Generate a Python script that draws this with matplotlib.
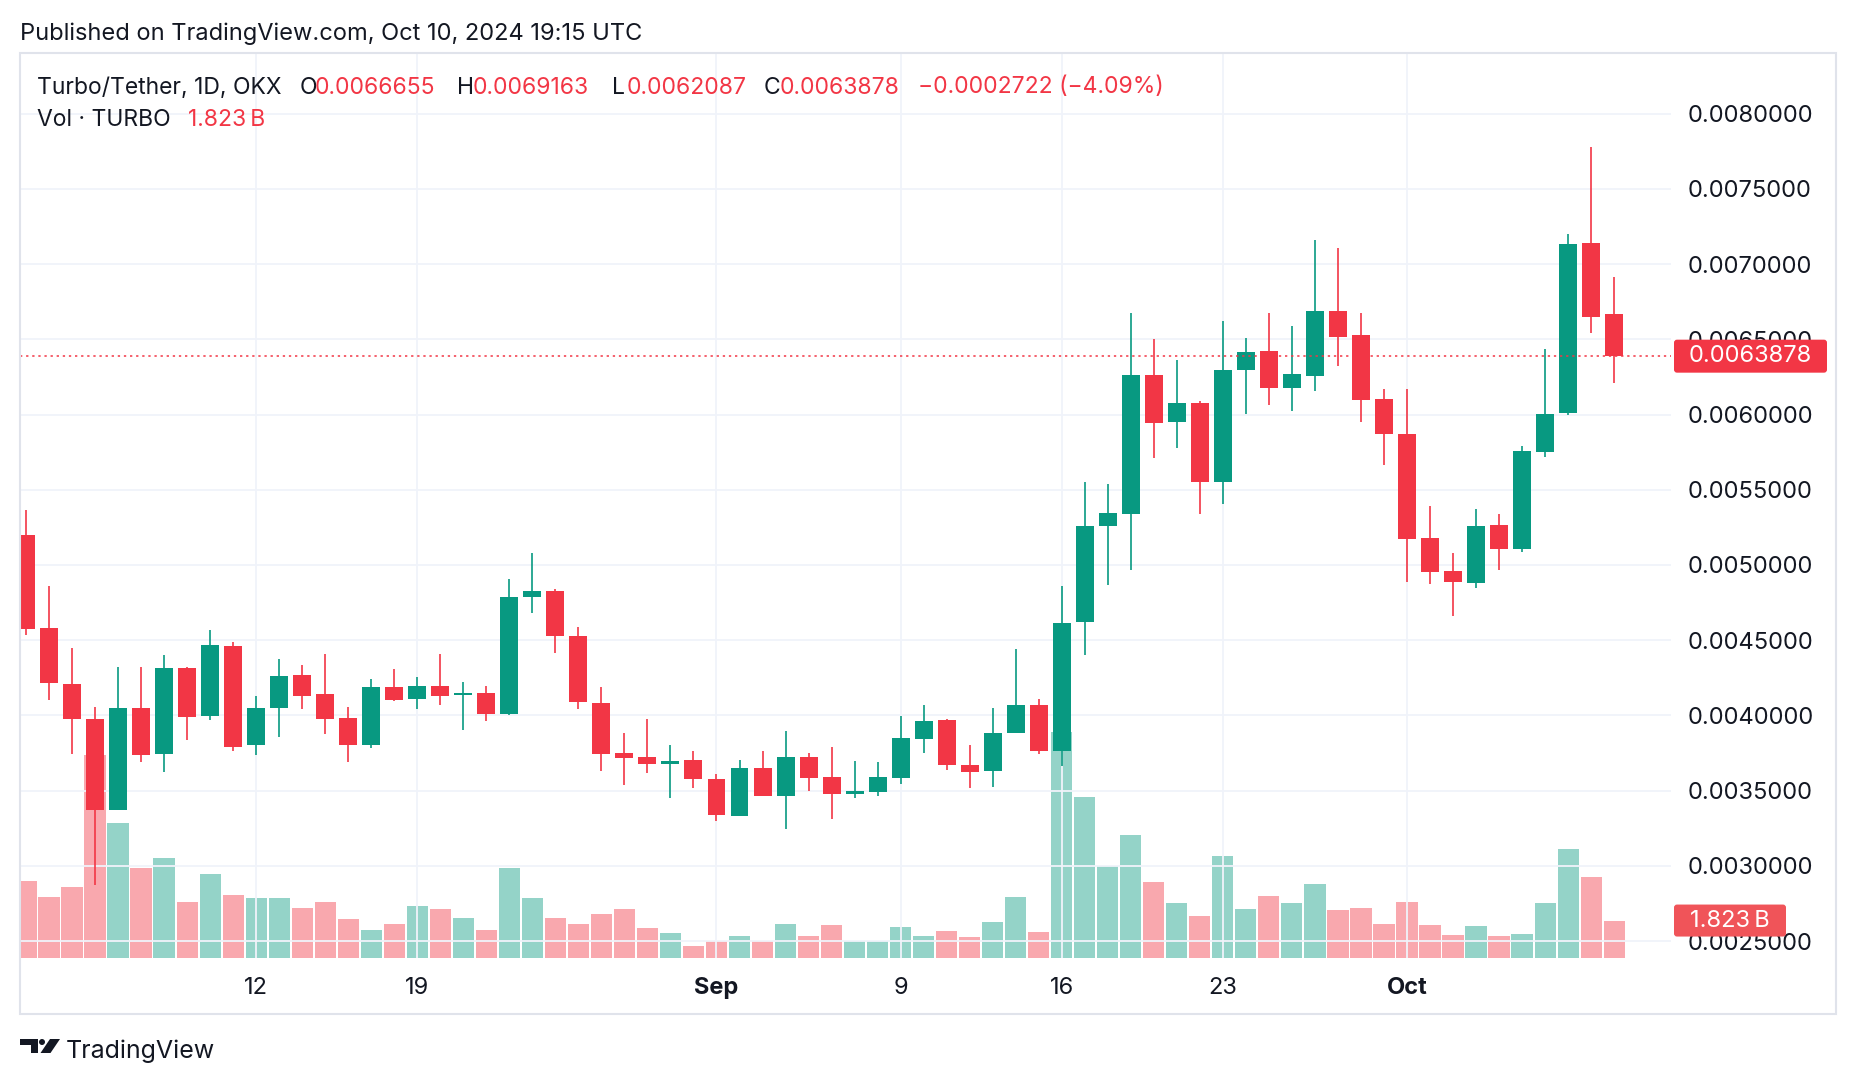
import matplotlib.pyplot as plt
import matplotlib.dates as mdates
import matplotlib.transforms as mtransforms
from matplotlib.patches import Rectangle, Polygon, Circle, FancyBboxPatch
import numpy as np
import pandas as pd

plt.rcParams['font.family'] = ['Inter', 'DejaVu Sans']

# daily candles, Aug 2 - Oct 10 2024
dates = pd.date_range('2024-08-02', '2024-10-10', freq='D')
opens = [0.005201, 0.004583, 0.004211, 0.003979, 0.003374, 0.004052, 0.003746, 0.004318, 0.003999, 0.004464,
         0.003800, 0.004052, 0.004271, 0.004145, 0.003985, 0.003806, 0.004191, 0.004112, 0.004198, 0.004138,
         0.004152, 0.004012, 0.004785, 0.004829, 0.004530, 0.004085, 0.003753, 0.003726, 0.003680, 0.003706,
         0.003580, 0.003334, 0.003647, 0.003467, 0.003726, 0.003593, 0.003480, 0.003494, 0.003587, 0.003846,
         0.003972, 0.003673, 0.003633, 0.003886, 0.004072, 0.003761, 0.004618, 0.005257, 0.005337, 0.006264,
         0.005948, 0.006076, 0.005552, 0.006299, 0.006424, 0.006177, 0.006257, 0.006688, 0.006531, 0.006104,
         0.005872, 0.005181, 0.004962, 0.004882, 0.005268, 0.005108, 0.005754, 0.006007, 0.007139, 0.0066655]
highs = [0.005367, 0.004862, 0.004450, 0.004059, 0.004324, 0.004324, 0.004404, 0.004320, 0.004570, 0.004490,
         0.004132, 0.004377, 0.004337, 0.004411, 0.004059, 0.004245, 0.004311, 0.004258, 0.004411, 0.004225,
         0.004198, 0.004909, 0.005082, 0.004842, 0.004590, 0.004191, 0.003886, 0.003979, 0.003806, 0.003760,
         0.003613, 0.003706, 0.003766, 0.003899, 0.003753, 0.003793, 0.003700, 0.003693, 0.003999, 0.004072,
         0.003975, 0.003800, 0.004052, 0.004444, 0.004112, 0.004858, 0.005549, 0.005535, 0.006677, 0.006500,
         0.006365, 0.006090, 0.006622, 0.006510, 0.006677, 0.006590, 0.007160, 0.007108, 0.006677, 0.006170,
         0.006170, 0.005389, 0.005077, 0.005375, 0.005340, 0.005788, 0.006438, 0.007198, 0.007779, 0.0069163]
lows = [0.004537, 0.004105, 0.003746, 0.002870, 0.003368, 0.003693, 0.003627, 0.003839, 0.003972, 0.003760,
        0.003740, 0.003859, 0.004045, 0.003879, 0.003687, 0.003780, 0.004098, 0.004045, 0.004072, 0.003906,
        0.003965, 0.004005, 0.004683, 0.004417, 0.004045, 0.003633, 0.003534, 0.003620, 0.003454, 0.003520,
        0.003301, 0.003334, 0.003461, 0.003248, 0.003500, 0.003308, 0.003454, 0.003467, 0.003547, 0.003753,
        0.003640, 0.003520, 0.003527, 0.003886, 0.003746, 0.003663, 0.004400, 0.004868, 0.004969, 0.005708,
        0.005778, 0.005337, 0.005406, 0.006004, 0.006066, 0.006024, 0.006153, 0.006323, 0.005951, 0.005667,
        0.004889, 0.004875, 0.004663, 0.004844, 0.004969, 0.005083, 0.005719, 0.006000, 0.006539, 0.0062087]
closes = [0.004577, 0.004214, 0.003974, 0.003374, 0.004052, 0.003740, 0.004318, 0.003992, 0.004470, 0.003793,
          0.004052, 0.004264, 0.004132, 0.003979, 0.003806, 0.004191, 0.004105, 0.004198, 0.004132, 0.004152,
          0.004012, 0.004789, 0.004829, 0.004526, 0.004087, 0.003746, 0.003720, 0.003680, 0.003700, 0.003580,
          0.003341, 0.003647, 0.003461, 0.003726, 0.003587, 0.003480, 0.003500, 0.003593, 0.003853, 0.003965,
          0.003667, 0.003627, 0.003886, 0.004072, 0.003766, 0.004611, 0.005261, 0.005347, 0.006264, 0.005941,
          0.006076, 0.005552, 0.006299, 0.006417, 0.006177, 0.006267, 0.006688, 0.006517, 0.006094, 0.005872,
          0.005174, 0.004955, 0.004889, 0.005261, 0.005108, 0.005760, 0.006004, 0.007131, 0.006651, 0.0063878]
# volume in billions TURBO
volumes = [3.79, 3.00, 3.45, 9.97, 6.60, 4.43, 4.88, 2.76, 4.09, 3.10,
           2.91, 2.91, 2.46, 2.76, 1.92, 1.38, 1.63, 2.56, 2.41, 1.97,
           1.38, 4.43, 2.91, 1.97, 1.63, 2.17, 2.41, 1.48, 1.23, 0.59,
           0.84, 1.08, 0.84, 1.67, 1.08, 1.58, 0.84, 0.84, 1.53, 1.08,
           1.33, 1.03, 1.77, 3.00, 1.28, 11.08, 7.88, 4.53, 6.03, 3.71,
           2.68, 2.04, 4.99, 2.41, 3.05, 2.68, 3.60, 2.36, 2.46, 1.67,
           2.76, 1.59, 1.13, 1.54, 1.05, 1.18, 2.68, 5.32, 3.96, 1.823]

price_ticks = [0.0025, 0.0030, 0.0035, 0.0040, 0.0045, 0.0050, 0.0055, 0.0060, 0.0065, 0.0070, 0.0075, 0.0080]
date_ticks = ['2024-08-12', '2024-08-19', '2024-09-01', '2024-09-09', '2024-09-16', '2024-09-23', '2024-10-01']
date_labels = ['12', '19', 'Sep', '9', '16', '23', 'Oct']

UP = '#089981'
DOWN = '#f23645'
TXT = '#131722'
GRID = '#f0f3fa'

W, H = 1856, 1086
fig = plt.figure(figsize=(W / 100, H / 100), dpi=100)
fig.patch.set_facecolor('white')


def fx(px):
    return px / W


def fy(py):
    return 1 - py / H


rect = [fx(20), fy(957.6), fx(1671) - fx(20), fy(53.3) - fy(957.6)]
axv = fig.add_axes(rect)
ax = fig.add_axes(rect, sharex=axv)
ax.set_zorder(axv.get_zorder() + 1)
ax.patch.set_visible(False)

x = mdates.date2num(dates)
o = np.array(opens)
h = np.array(highs)
l = np.array(lows)
c = np.array(closes)
colors = np.where(c >= o, UP, DOWN)

# volume pane
axv.bar(x, volumes, width=0.92, color=colors, alpha=0.43, lw=0)
axv.set_ylim(0, 44.5)
axv.axis('off')

# candles
ax.vlines(x, l, h, color=colors, lw=1.2, zorder=3)
ax.bar(x, np.maximum(np.abs(c - o), 0.000005), bottom=np.minimum(o, c),
       width=0.78, color=colors, lw=0, zorder=4)
ax.axhline(c[-1], color=DOWN, lw=1.1, ls=(0, (1.5, 2.5)), zorder=5)

ax.set_xlim(x[0] - 0.26, x[-1] + 2.47)
ax.set_ylim(0.00239, 0.008401)
ax.set_yticks(price_ticks)
ax.set_yticklabels([f'{v:.7f}' for v in price_ticks])
ax.yaxis.tick_right()
ax.tick_params(axis='y', length=0, pad=12, labelsize=17, labelcolor=TXT)
ax.set_xticks(mdates.date2num(pd.to_datetime(date_ticks)))
ax.set_xticklabels(date_labels)
ax.tick_params(axis='x', length=0, pad=14, labelsize=17, labelcolor=TXT)
for t in ax.get_xticklabels():
    if t.get_text() in ('Sep', 'Oct'):
        t.set_fontweight('bold')
ax.grid(True, color=GRID, lw=1.3)
ax.set_axisbelow(True)
for s in ax.spines.values():
    s.set_visible(False)

# outer frame
fig.patches.append(Rectangle((fx(20), fy(1014.4)), fx(1836) - fx(20), fy(53.3) - fy(1014.4),
                             transform=fig.transFigure, fill=False, ec='#e0e3eb', lw=1.5, zorder=2))

# header texts
fig.text(fx(20), fy(34), 'Published on TradingView.com, Oct 10, 2024 19:15 UTC',
         fontsize=17, color=TXT, va='center', ha='left')
row1 = [(36.7, 'Turbo/Tether, 1D, OKX', TXT), (299.5, 'O', TXT), (314.9, '0.0066655', DOWN),
        (456.9, 'H', TXT), (472.3, '0.0069163', DOWN), (612, 'L', TXT), (626.2, '0.0062087', DOWN),
        (763.5, 'C', TXT), (780, '0.0063878', DOWN), (918.5, '\u22120.0002722 (\u22124.09%)', DOWN)]
for px, s, col in row1:
    fig.text(fx(px), fy(87.5), s, fontsize=16.5, color=col, va='center', ha='left')
fig.text(fx(36.7), fy(120.5), 'Vol \u00b7 TURBO', fontsize=16.5, color=TXT, va='center', ha='left')
fig.text(fx(188.2), fy(120.5), '1.823\u2009B', fontsize=16.5, color=DOWN, va='center', ha='left')

# last price / last volume labels on the scale
ident = mtransforms.IdentityTransform()
py = ax.transData.transform((x[-1], c[-1]))[1]
fig.patches.append(FancyBboxPatch((1674, py - 16.5), 153, 33, boxstyle='round,pad=0,rounding_size=3',
                                  transform=ident, fc=DOWN, ec='none', zorder=6))
fig.text(fx(1750.5), py / H, f'{c[-1]:.7f}', fontsize=17, color='white', va='center', ha='center', zorder=7)
vy = axv.transData.transform((x[-1], volumes[-1]))[1]
fig.patches.append(FancyBboxPatch((1674, vy - 16), 112, 32, boxstyle='round,pad=0,rounding_size=3',
                                  transform=ident, fc='#f05459', ec='none', zorder=6))
fig.text(fx(1730), vy / H, '1.823\u2009B', fontsize=17, color='white', va='center', ha='center', zorder=7)

# TradingView logo + wordmark
fig.patches.append(Polygon([(20, H - 1039), (38, H - 1039), (38, H - 1053), (31, H - 1053),
                            (31, H - 1045), (20, H - 1045)], closed=True, transform=ident, fc=TXT, ec='none'))
fig.patches.append(Circle((42, H - 1042), 3, transform=ident, fc=TXT, ec='none'))
fig.patches.append(Polygon([(50, H - 1039), (60, H - 1039), (50.5, H - 1053), (40.5, H - 1053)],
                           closed=True, transform=ident, fc=TXT, ec='none'))
fig.text(fx(66), fy(1051), 'TradingView', fontsize=18, color=TXT, va='center', ha='left')

fig.savefig('out.png', dpi=100, facecolor='white')
